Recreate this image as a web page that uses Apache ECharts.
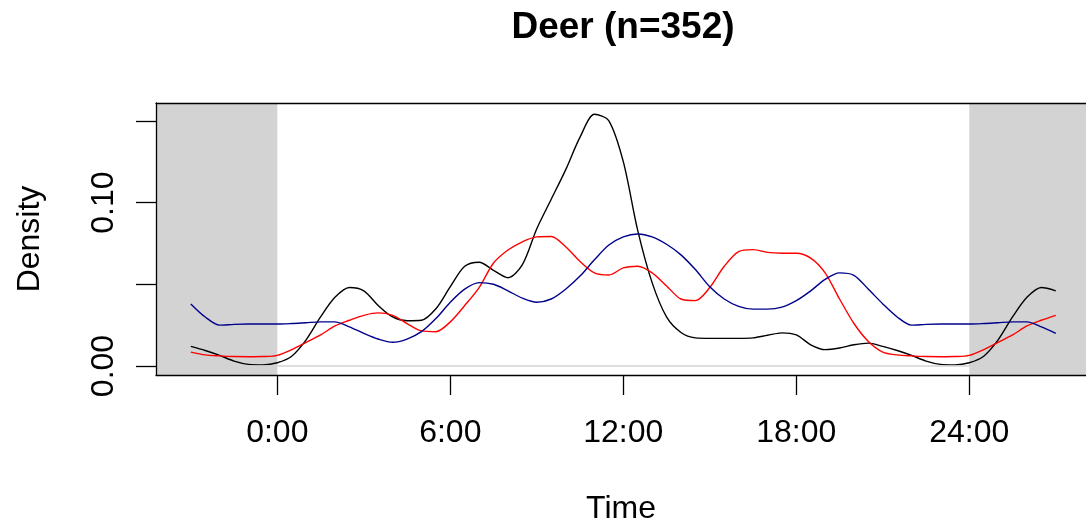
<!DOCTYPE html>
<html>
<head>
<meta charset="utf-8">
<script src="https://cdn.jsdelivr.net/npm/echarts@6/dist/echarts.min.js"></script>
<style>
  html, body { margin: 0; padding: 0; background: #fff; }
  #chart { width: 1086px; height: 525px; }
</style>
</head>
<body>
<div id="chart"></div>
<script>
// Kernel density of activity over one day (hours 0..24), three groups
const hours = [
  0, 0.5, 1, 1.5, 2, 2.5, 3, 3.5, 4, 4.5, 5, 5.5, 6, 6.5, 7, 7.5, 8, 8.5, 9, 9.5,
  10, 10.5, 11, 11.5, 12, 12.5, 13, 13.5, 14, 14.5, 15, 15.5, 16, 16.5, 17, 17.5,
  18, 18.5, 19, 19.5, 20, 20.5, 21, 21.5, 22, 22.5, 23, 23.5, 24
];
const densityBlack = [
  0.0020, 0.0060, 0.0160, 0.0300, 0.0420, 0.0480, 0.0460, 0.0370, 0.0300, 0.0277,
  0.0280, 0.0350, 0.0485, 0.0610, 0.0635, 0.0585, 0.0540, 0.0620, 0.0840, 0.1020,
  0.1200, 0.1400, 0.1540, 0.1500, 0.1250, 0.0830, 0.0510, 0.0300, 0.0205, 0.0172,
  0.0169, 0.0169, 0.0169, 0.0172, 0.0188, 0.0203, 0.0190, 0.0130, 0.0100, 0.0110,
  0.0130, 0.0140, 0.0120, 0.0095, 0.0065, 0.0030, 0.0010, 0.0007, 0.0020
];
const densityRed = [
  0.0065, 0.0100, 0.0145, 0.0190, 0.0245, 0.0280, 0.0310, 0.0325, 0.0310, 0.0260,
  0.0215, 0.0210, 0.0270, 0.0370, 0.0480, 0.0630, 0.0710, 0.0760, 0.0790, 0.0792,
  0.0730, 0.0640, 0.0570, 0.0557, 0.0600, 0.0610, 0.0570, 0.0490, 0.0410, 0.0400,
  0.0480, 0.0610, 0.0700, 0.0712, 0.0695, 0.0690, 0.0690, 0.0660, 0.0570, 0.0410,
  0.0260, 0.0150, 0.0085, 0.0068, 0.0062, 0.0058, 0.0057, 0.0058, 0.0065
];
const densityBlue = [
  0.0257, 0.0260, 0.0265, 0.0270, 0.0270, 0.0240, 0.0200, 0.0165, 0.0145, 0.0165,
  0.0210, 0.0290, 0.0390, 0.0470, 0.0510, 0.0500, 0.0460, 0.0415, 0.0390, 0.0410,
  0.0470, 0.0550, 0.0650, 0.0740, 0.0790, 0.0808, 0.0790, 0.0745, 0.0680, 0.0590,
  0.0485, 0.0410, 0.0365, 0.0348, 0.0348, 0.0360, 0.0400, 0.0460, 0.0530, 0.0570,
  0.0555, 0.0470, 0.0380, 0.0300, 0.0250, 0.0255, 0.0257, 0.0257, 0.0257
];
const xTickValues = [0, 6, 12, 18, 24];
const xTickLabels = ['0:00', '6:00', '12:00', '18:00', '24:00'];
const yTickValues = [0, 0.05, 0.10, 0.15];
const yLabelValues = [0, 0.10];
const titleText = 'Deer (n=352)';

// the daily curve is circular: show it from 21:00 of the previous day to 03:00 of the next
const EXTEND = 3;
function extendCircular(values) {
  const pts = [];
  hours.forEach((h, i) => { if (h >= 24 - EXTEND && h < 24) pts.push([h - 24, values[i]]); });
  hours.forEach((h, i) => pts.push([h, values[i]]));
  hours.forEach((h, i) => { if (h > 0 && h <= EXTEND) pts.push([h + 24, values[i]]); });
  return pts;
}

const X_MIN = -4.207, X_MAX = 28.048;
const Y_MIN = -0.0055, Y_MAX = 0.1609;
const FONT = '"Liberation Sans", Arial, Helvetica, sans-serif';
const AXIS_LINE = { show: true, onZero: false, lineStyle: { color: '#000', width: 1.3 } };

function curve(name, color, values) {
  return {
    name, type: 'line', data: extendCircular(values),
    showSymbol: false, smooth: 0.3, z: 3, silent: true,
    lineStyle: { color, width: 1.4 }
  };
}

const chart = echarts.init(document.getElementById('chart'), null, { renderer: 'canvas' });
chart.setOption({
  animation: false,
  backgroundColor: '#fff',
  title: {
    text: titleText, left: 623, top: 9, padding: 0, textAlign: 'center',
    textStyle: { fontFamily: FONT, fontWeight: 'bold', fontSize: 37, color: '#000' }
  },
  grid: {
    left: 156, right: 0, top: 103, height: 272, show: false,
    containLabel: false, outerBoundsMode: 'none'
  },
  xAxis: [
    {
      type: 'value', min: X_MIN, max: X_MAX, position: 'bottom', z: 10,
      name: 'Time', nameLocation: 'middle', nameGap: 118,
      nameTextStyle: { fontFamily: FONT, fontSize: 32, color: '#000' },
      splitLine: { show: false },
      axisLine: AXIS_LINE,
      axisTick: { show: true, length: 20, customValues: xTickValues, lineStyle: { color: '#000', width: 1.3 } },
      axisLabel: {
        customValues: xTickValues, margin: 42,
        fontFamily: FONT, fontSize: 32, color: '#000',
        formatter: v => xTickLabels[xTickValues.indexOf(v)]
      }
    },
    {
      // top edge of the plot box
      type: 'value', min: X_MIN, max: X_MAX, position: 'top', z: 10,
      axisLine: AXIS_LINE, axisTick: { show: false }, axisLabel: { show: false },
      splitLine: { show: false }
    }
  ],
  yAxis: {
    type: 'value', min: Y_MIN, max: Y_MAX, z: 10,
    name: 'Density', nameLocation: 'middle', nameGap: 110, nameRotate: 90,
    nameTextStyle: { fontFamily: FONT, fontSize: 32, color: '#000' },
    splitLine: { show: false },
    axisLine: AXIS_LINE,
    axisTick: { show: true, length: 20, customValues: yTickValues, lineStyle: { color: '#000', width: 1.3 } },
    axisLabel: {
      customValues: yLabelValues, rotate: 90, margin: 36,
      fontFamily: FONT, fontSize: 32, color: '#000',
      formatter: v => v.toFixed(2)
    }
  },
  series: [
    {
      name: 'night', type: 'line', data: [], z: 1, silent: true,
      markArea: {
        silent: true,
        itemStyle: { color: '#D3D3D3' },
        data: [
          [{ xAxis: X_MIN }, { xAxis: 0 }],
          [{ xAxis: 24 }, { xAxis: X_MAX }]
        ]
      },
      markLine: {
        silent: true, symbol: 'none', label: { show: false },
        lineStyle: { color: '#D3D3D3', width: 1.5, type: 'solid' },
        data: [{ yAxis: 0 }]
      }
    },
    curve('Deer', '#000000', densityBlack),
    curve('Deer 2', '#FF0000', densityRed),
    curve('Deer 3', '#00008B', densityBlue)
  ]
});
</script>
</body>
</html>
